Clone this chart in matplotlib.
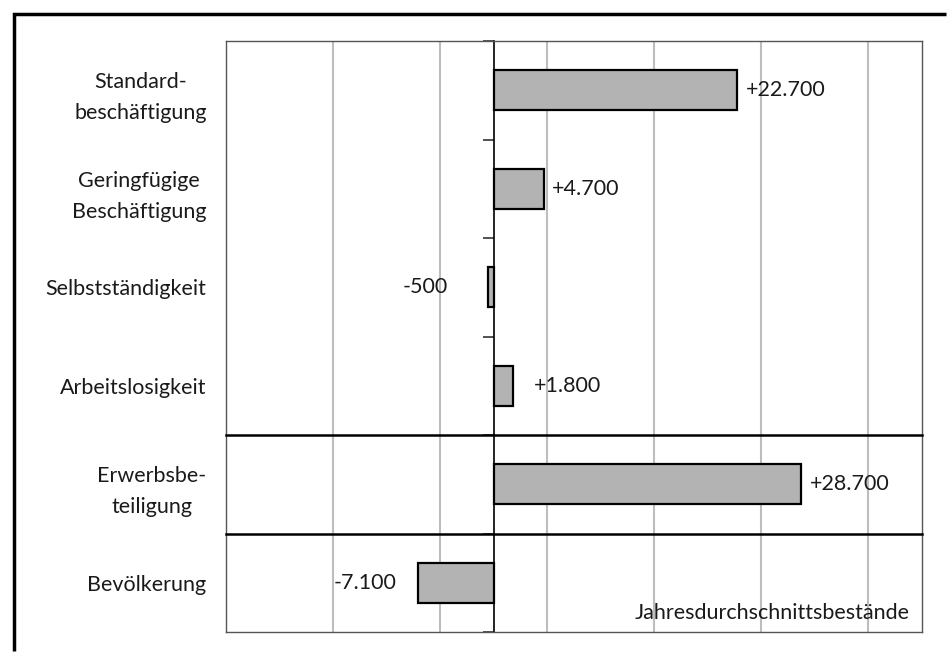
import matplotlib
matplotlib.use("Agg")
import matplotlib.pyplot as plt
from matplotlib.lines import Line2D

plt.rcParams['font.family'] = ['Lato', 'DejaVu Sans']

# Veränderungen gegenüber dem Vorjahr (Personen)
categories = ["Standard-\nbeschäftigung", "Geringfügige\nBeschäftigung",
              "Selbstständigkeit", "Arbeitslosigkeit",
              "Erwerbsbe-\nteiligung", "Bevölkerung"]
changes = [22700, 4700, -500, 1800, 28700, -7100]
value_labels = ["+22.700", "+4.700", "-500", "+1.800", "+28.700", "-7.100"]
note = "Jahresdurchschnittsbestände"

# horizontal gap between bar end and its label, in pixels
label_gap = [9, 8, -40, 21, 9, -21]

xmin, xmax = -25000, 40000
grid_x = [-15000, -5000, 5000, 15000, 25000, 35000]
fs = 15.5

fig = plt.figure(figsize=(9.47, 6.52), dpi=100)
ax = fig.add_axes([226 / 947, 1 - 632 / 652, 696 / 947, 591 / 652])

ypos = list(range(len(categories)))
ax.barh(ypos, changes, height=0.41, color='#b3b3b3', edgecolor='black',
        linewidth=1.6, zorder=3)

for y, v, lab, gap in zip(ypos, changes, value_labels, label_gap):
    ax.annotate(lab, xy=(v, y), xytext=(gap, 0), textcoords='offset pixels',
                ha='left' if gap > 0 else 'right', va='center',
                fontsize=fs, color='#1a1a1a', zorder=4)

ax.set_xlim(xmin, xmax)
ax.set_ylim(len(categories) - 0.5, -0.5)

ax.set_xticks(grid_x)
ax.xaxis.grid(True, color='#bdbdbd', linewidth=1.5, zorder=0)
ax.tick_params(axis='x', length=0, labelbottom=False)

ax.set_yticks(ypos)
ax.set_yticklabels(categories, fontsize=fs, color='#1a1a1a',
                   multialignment='center', linespacing=1.7)
ax.tick_params(axis='y', length=0, pad=14)

for s in ax.spines.values():
    s.set_color('#555555')
    s.set_linewidth(1.0)

# zero axis with ticks at the category boundaries
zero_ax = ax.secondary_yaxis((0 - xmin) / (xmax - xmin))
zero_ax.set_yticks([i - 0.5 for i in range(len(categories) + 1)])
zero_ax.tick_params(axis='y', length=8, width=1.2, color='#333333',
                    labelleft=False, direction='out')
zero_ax.spines['left'].set_color('black')
zero_ax.spines['left'].set_linewidth(1.2)

# separators between the employment forms and the aggregates
for b in (3.5, 4.5):
    ax.axhline(b, color='black', linewidth=1.8, zorder=5, clip_on=False)

ax.text(0.983, 0.032, note, transform=ax.transAxes, ha='right',
        va='center', fontsize=fs, color='#1a1a1a')

# outer frame, left and top edges
fx, fy = 13.5 / 947, 1 - 13.5 / 652
fig.add_artist(Line2D([fx, fx, 0.9992], [0.0008, fy, fy],
                      transform=fig.transFigure, color='black',
                      linewidth=2.5, solid_capstyle='butt',
                      solid_joinstyle='miter'))

fig.savefig('out.png', dpi=100)
